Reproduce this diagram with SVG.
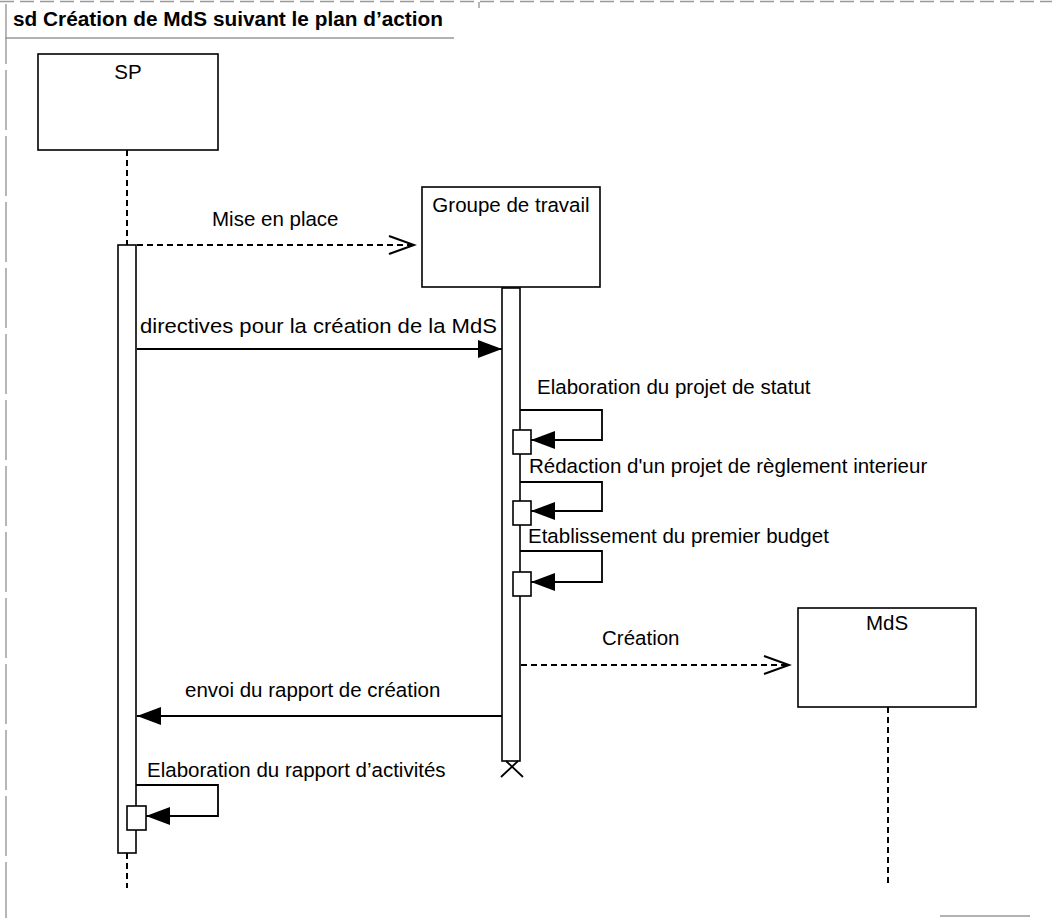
<svg xmlns="http://www.w3.org/2000/svg" width="1052" height="918" viewBox="0 0 1052 918">
<defs>
<style>
text{font-family:"Liberation Sans",Arial,sans-serif;font-size:20.5px;fill:#000}
.title{font-weight:bold;font-size:19.5px}
.box{fill:#fff;stroke:#000;stroke-width:1.6}
.bar{fill:#fff;stroke:#000;stroke-width:1.6}
.life{stroke:#000;stroke-width:2;stroke-dasharray:6 4;fill:none}
.msg{stroke:#000;stroke-width:1.8;fill:none}
.dmsg{stroke:#000;stroke-width:1.8;fill:none;stroke-dasharray:6 4}
.frame{stroke:#999;stroke-width:1.4;fill:none}
</style>
<marker id="fa" markerUnits="userSpaceOnUse" markerWidth="26" markerHeight="20" refX="24" refY="9" orient="auto">
<path d="M0,0 L24,9 L0,18 z" fill="#000"/>
</marker>
<marker id="oa" markerUnits="userSpaceOnUse" markerWidth="30" markerHeight="22" refX="26" refY="10" orient="auto">
<path d="M1,1 L26,10 L1,19" fill="none" stroke="#000" stroke-width="2"/>
</marker>
</defs>
<rect width="1052" height="918" fill="#fff"/>
<g id="frame">
<line class="frame" x1="0" y1="1.5" x2="1052" y2="1.5" stroke-dasharray="14 6"/>
<line class="frame" x1="6" y1="4" x2="6" y2="918" stroke-dasharray="60 6"/>
<line class="frame" x1="5" y1="38" x2="454" y2="38"/>
<line class="frame" x1="479" y1="2" x2="479" y2="8"/>
<line class="frame" x1="940" y1="916" x2="1030" y2="916" stroke="#ccc"/>
<text class="title" x="13" y="26" textLength="430" lengthAdjust="spacingAndGlyphs">sd Création de MdS suivant le plan d’action</text>
</g>
<g id="SP">
<rect class="box" x="38" y="54" width="180" height="96"/>
<text x="128" y="79" text-anchor="middle">SP</text>
<line class="life" x1="127" y1="150" x2="127" y2="245"/>
<line class="life" x1="127" y1="853" x2="127" y2="888"/>
<rect class="bar" x="118" y="245" width="18" height="608"/>
<rect class="bar" x="127" y="806" width="19" height="24"/>
</g>
<g id="Groupe">
<rect class="box" x="422" y="187" width="178" height="100"/>
<text x="511" y="212" text-anchor="middle">Groupe de travail</text>
<rect class="bar" x="502" y="288" width="18" height="473"/>
<rect class="bar" x="513" y="430" width="18" height="24"/>
<rect class="bar" x="513" y="501" width="18" height="24"/>
<rect class="bar" x="513" y="572" width="18" height="24"/>
<path d="M506,761 L523,777 M518,761 L501,777" stroke="#000" stroke-width="1.8" fill="none"/>
</g>
<g id="MdS">
<rect class="box" x="798" y="608" width="178" height="99"/>
<text x="887" y="630" text-anchor="middle">MdS</text>
<line class="life" x1="888" y1="707" x2="888" y2="886"/>
</g>
<g id="connectors">
<line class="dmsg" x1="137" y1="245" x2="414" y2="245" marker-end="url(#oa)"/>
<text x="212" y="226">Mise en place</text>
<line class="msg" x1="137" y1="349" x2="502" y2="349" marker-end="url(#fa)"/>
<text x="140" y="333" textLength="357" lengthAdjust="spacingAndGlyphs">directives pour la création de la MdS</text>
<path class="msg" d="M520,410 H602 V440 H531" marker-end="url(#fa)"/>
<text x="537" y="394">Elaboration du projet de statut</text>
<path class="msg" d="M520,482 H602 V511 H531" marker-end="url(#fa)"/>
<text x="529" y="473">Rédaction d'un projet de règlement interieur</text>
<path class="msg" d="M520,551 H602 V582 H531" marker-end="url(#fa)"/>
<text x="528" y="543">Etablissement du premier budget</text>
<line class="dmsg" x1="521" y1="665" x2="789" y2="665" marker-end="url(#oa)"/>
<text x="602" y="645">Création</text>
<line class="msg" x1="502" y1="716" x2="137" y2="716" marker-end="url(#fa)"/>
<text x="185" y="697">envoi du rapport de création</text>
<path class="msg" d="M136,785 H218 V816 H146" marker-end="url(#fa)"/>
<text x="147" y="777">Elaboration du rapport d’activités</text>
</g>
</svg>
